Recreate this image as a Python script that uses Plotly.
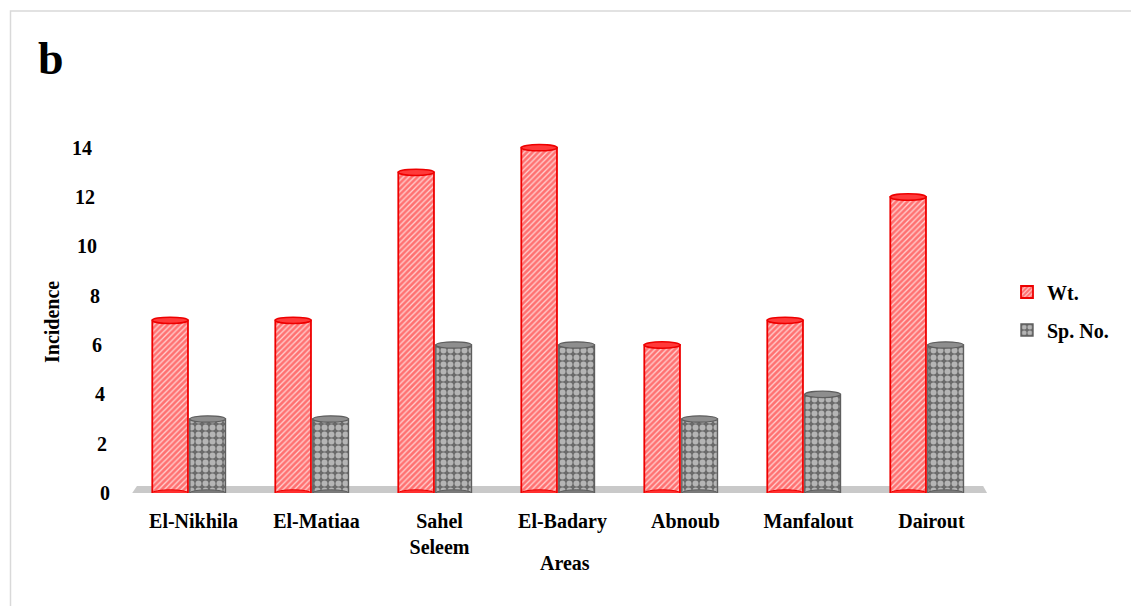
import plotly.graph_objects as go

# Incidence by area
areas = ["El-Nikhila", "El-Matiaa", "Sahel<br>Seleem", "El-Badary", "Abnoub", "Manfalout", "Dairout"]
wt_values = [7, 7, 13, 14, 6, 7, 12]
sp_no_values = [3, 3, 6, 6, 3, 4, 6]
y_ticks = [0, 2, 4, 6, 8, 10, 12, 14]

W, H = 1131, 606
ML, MR, MT, MB = 132, 138, 123, 113
Y_RANGE = [0, 15]
PW, PH = W - ML - MR, H - MT - MB

SERIF = "Liberation Serif, Times New Roman, serif"
FS = 20


def px_x(p):
    return (p - ML) / PW


def px_y(p):
    return (H - MB - p) / PH


BAR_W = 0.29
WT_OFF = -0.335
SP_OFF = -0.03

x_pos = list(range(len(areas)))

fig = go.Figure()
fig.add_trace(go.Bar(
    x=x_pos, y=wt_values, name="Wt.", width=BAR_W, offset=WT_OFF,
    marker=dict(color="#ff1a1a", line=dict(color="#ee0000", width=1.8),
                pattern=dict(shape="/", fgcolor="#ff1010", bgcolor="#ffd2d2",
                             size=4, solidity=0.68)),
    legend="legend", showlegend=True,
))
fig.add_trace(go.Bar(
    x=x_pos, y=sp_no_values, name="Sp. No.", width=BAR_W, offset=SP_OFF,
    marker=dict(color="#6a6a6a", line=dict(color="#5e5e5e", width=1.4),
                pattern=dict(shape=".", fgcolor="#ffffff", bgcolor="#6a6a6a",
                             size=7, solidity=0.55)),
    legend="legend2", showlegend=True,
))

shapes = []
# grey floor slab under the bars
shapes.append(dict(
    type="path", xref="x", yref="y", layer="below",
    path="M -0.52 -0.16 L 6.47 -0.16 L 6.42 0.28 L -0.46 0.28 Z",
    fillcolor="#c9c9c9", line=dict(width=0),
))

# cylinder caps and rounded bottoms
CAP = 0.13
for xi, v in zip(x_pos, wt_values):
    x0, x1 = xi + WT_OFF, xi + WT_OFF + BAR_W
    shapes.append(dict(type="circle", xref="x", yref="y", x0=x0, x1=x1, y0=-CAP, y1=CAP,
                       fillcolor="#ff3030", line=dict(color="#ee0000", width=1)))
    shapes.append(dict(type="circle", xref="x", yref="y", x0=x0, x1=x1, y0=v - CAP, y1=v + CAP,
                       fillcolor="#ff3a3a", line=dict(color="#ee0000", width=1.5)))
for xi, v in zip(x_pos, sp_no_values):
    x0, x1 = xi + SP_OFF, xi + SP_OFF + BAR_W
    shapes.append(dict(type="circle", xref="x", yref="y", x0=x0, x1=x1, y0=-CAP, y1=CAP,
                       fillcolor="#7a7a7a", line=dict(color="#5e5e5e", width=1)))
    shapes.append(dict(type="circle", xref="x", yref="y", x0=x0, x1=x1, y0=v - CAP, y1=v + CAP,
                       fillcolor="#8e8e8e", line=dict(color="#5e5e5e", width=1.2)))

# outer frame
shapes.append(dict(type="rect", xref="paper", yref="paper",
                   x0=px_x(10.5), x1=px_x(1160), y0=px_y(640), y1=px_y(11),
                   fillcolor="rgba(0,0,0,0)", line=dict(color="#d9d9d9", width=1.5)))

bold = dict(family=SERIF, size=FS, color="#000", weight="bold")

annotations = []
# y tick labels, staggered for the perspective look
for v in y_ticks:
    right_px = 112 - 18 * v / 14
    annotations.append(dict(x=px_x(right_px), xref="paper", y=v, yref="y",
                            text=str(v), showarrow=False, xanchor="right", yanchor="middle",
                            font=bold))
annotations.append(dict(x=px_x(52), xref="paper", y=px_y(322), yref="paper",
                        text="Incidence", textangle=-90, showarrow=False,
                        xanchor="center", yanchor="middle", font=bold))
annotations.append(dict(x=px_x(565), xref="paper", y=px_y(563), yref="paper",
                        text="Areas", showarrow=False,
                        xanchor="center", yanchor="middle", font=bold))
annotations.append(dict(x=px_x(36), xref="paper", y=px_y(58), yref="paper",
                        text="b", showarrow=False, xanchor="left", yanchor="middle",
                        font=dict(family=SERIF, size=46, color="#000", weight="bold")))

fig.update_layout(
    width=W, height=H,
    margin=dict(l=ML, r=MR, t=MT, b=MB),
    paper_bgcolor="white", plot_bgcolor="white",
    barmode="overlay", showlegend=True,
    shapes=shapes, annotations=annotations,
    xaxis=dict(range=[-0.5, 6.5], tickvals=x_pos, ticktext=areas, showgrid=False,
               zeroline=False, showline=False, ticks="", ticklabelstandoff=14,
               tickfont=bold),
    yaxis=dict(range=Y_RANGE, showticklabels=False, showgrid=False, zeroline=False,
               showline=False, ticks=""),
    legend=dict(x=px_x(1007), y=px_y(292), xanchor="left", yanchor="middle",
                font=bold, bgcolor="rgba(0,0,0,0)", itemwidth=30),
    legend2=dict(x=px_x(1007), y=px_y(330), xanchor="left", yanchor="middle",
                 font=bold, bgcolor="rgba(0,0,0,0)", itemwidth=30),
)

fig.write_html("out.html")
